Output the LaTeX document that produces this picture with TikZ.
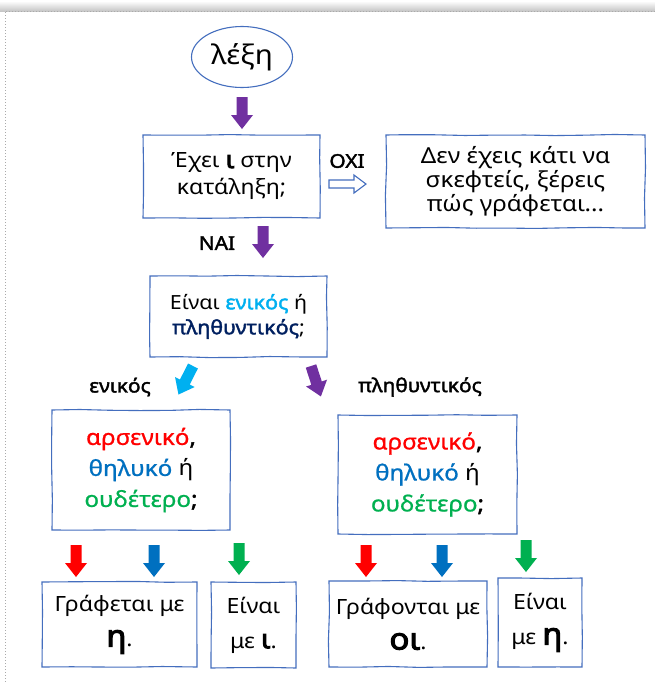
\documentclass[tikz,border=0pt]{standalone}
\usepackage{fontspec}
\setmainfont{Noto Sans}[FakeStretch=1.1]
\newfontfamily\medw{Noto Sans}[FakeStretch=1.1,FakeBold=0.9]
\newfontfamily\heavy{Noto Sans}[FakeStretch=1.1,FakeBold=2]
\newfontfamily\heavier{Noto Sans}[FakeStretch=1.1,FakeBold=3.5]
\usetikzlibrary{shapes.geometric,decorations.pathmorphing}
\definecolor{boxblue}{RGB}{68,110,190}
\definecolor{arrpurple}{RGB}{112,48,160}
\definecolor{arrred}{RGB}{255,0,0}
\definecolor{arrblue}{RGB}{0,112,192}
\definecolor{arrgreen}{RGB}{0,176,80}
\definecolor{lightblue}{RGB}{0,176,240}
\definecolor{navyblue}{RGB}{0,32,96}
\definecolor{framegray}{RGB}{170,170,170}
\tikzset{
  box/.style={draw=boxblue,line width=1.1pt,align=center,inner sep=0pt,
    decorate,decoration={random steps,segment length=30pt,amplitude=0.6pt},
    font=\fontsize{21}{27}\selectfont},
  lbl/.style={font=\heavy\fontsize{19}{22}\selectfont,inner sep=0pt},
  barrow/.pic={\path[pic actions] (0,-5.5) -- (18,-5.5) -- (18,-11) -- (32,0) -- (18,11) -- (18,5.5) -- (0,5.5) -- cycle;},
  harrow/.pic={\path[pic actions] (0,-4) -- (25,-4) -- (25,-9) -- (37,0) -- (25,9) -- (25,4) -- (0,4) -- cycle;}
}
\pgfmathsetseed{7}
\begin{document}
\begin{tikzpicture}[x=1pt,y=-1pt]
\useasboundingbox (0,0) rectangle (655,683);
\fill[white] (0,0) rectangle (655,683);
\shade[top color=white,bottom color=gray!45] (0,1) rectangle (655,11);
\draw[framegray,dotted,line width=1pt] (655,11) -- (5,11) -- (5,683);

\node[draw=boxblue,line width=1.1pt,ellipse,minimum width=101pt,minimum height=61pt,inner sep=0pt,font=\fontsize{27}{30}\selectfont] (lexi) at (242,57) {λέξη};

\node[box,minimum width=177pt,minimum height=83pt] (q1) at (231.5,176.5) {Έχει {\heavier\fontsize{24}{27}\selectfont ι} στην\\κατάληξη;};
\node[box,minimum width=259pt,minimum height=93pt,font=\fontsize{22}{24}\selectfont] (no) at (515.5,181.5) {Δεν έχεις κάτι να\\σκεφτείς, ξέρεις\\πώς γράφεται...};
\node[box,minimum width=177pt,minimum height=81pt,font=\fontsize{19.5}{25}\selectfont] (q2) at (238.5,316.5) {Είναι {\color{lightblue}\heavy ενικός} ή\\{\color{navyblue}\heavy πληθυντικός};};
\node[box,minimum width=178pt,minimum height=120pt,font=\fontsize{22}{31}\selectfont] (gl) at (141,470) {{\color{arrred}\medw αρσενικό}{\heavy ,}\\{\color{arrblue}\medw θηλυκό} ή\\{\color{arrgreen}\medw ουδέτερο}{\heavy ;}};
\node[box,minimum width=179pt,minimum height=119pt,font=\fontsize{22}{31}\selectfont] (gr) at (427.5,474.5) {{\color{arrred}\medw αρσενικό}{\heavy ,}\\{\color{arrblue}\medw θηλυκό} ή\\{\color{arrgreen}\medw ουδέτερο}{\heavy ;}};

\node[box,minimum width=155pt,minimum height=85pt,font=\fontsize{21}{35}\selectfont] (a1) at (119.5,624.5) {Γράφεται με\\{\heavier\fontsize{30}{30}\selectfont η}.};
\node[box,minimum width=85pt,minimum height=86pt,font=\fontsize{21}{35}\selectfont] (a2) at (253.5,625) {Είναι\\με {\heavier\fontsize{26}{30}\selectfont ι}.};
\node[box,minimum width=158pt,minimum height=86pt,font=\fontsize{21}{35}\selectfont] (a3) at (408,624) {Γράφονται με\\{\heavier\fontsize{30}{30}\selectfont οι}.};
\node[box,minimum width=84pt,minimum height=89pt,font=\fontsize{21}{35}\selectfont] (a4) at (540,622.5) {Είναι\\με {\heavier\fontsize{30}{30}\selectfont η}.};

\node[lbl] (oxi) at (347,161) {ΟΧΙ};
\node[lbl] (nai) at (217,243) {ΝΑΙ};
\node[lbl] (enik) at (120,387) {ενικός};
\node[lbl] (plith) at (420,387) {πληθυντικός};

\pic[fill=arrpurple,rotate=-90] at (242,97) {barrow};
\pic[fill=arrpurple,rotate=-90] at (263,226) {barrow};
\pic[fill=white,draw=boxblue,line width=1.1pt] at (329,184) {harrow};
\pic[fill=lightblue,rotate=-117] at (193,366) {barrow};
\pic[fill=arrpurple,rotate=-72] at (311,366) {barrow};

\pic[fill=arrred,rotate=-90] at (76,545) {barrow};
\pic[fill=arrblue,rotate=-90] at (154,545) {barrow};
\pic[fill=arrgreen,rotate=-90] at (239,543) {barrow};
\pic[fill=arrred,rotate=-90] at (366,545) {barrow};
\pic[fill=arrblue,rotate=-90] at (442,545) {barrow};
\pic[fill=arrgreen,rotate=-90] at (526,540) {barrow};
\end{tikzpicture}
\end{document}
